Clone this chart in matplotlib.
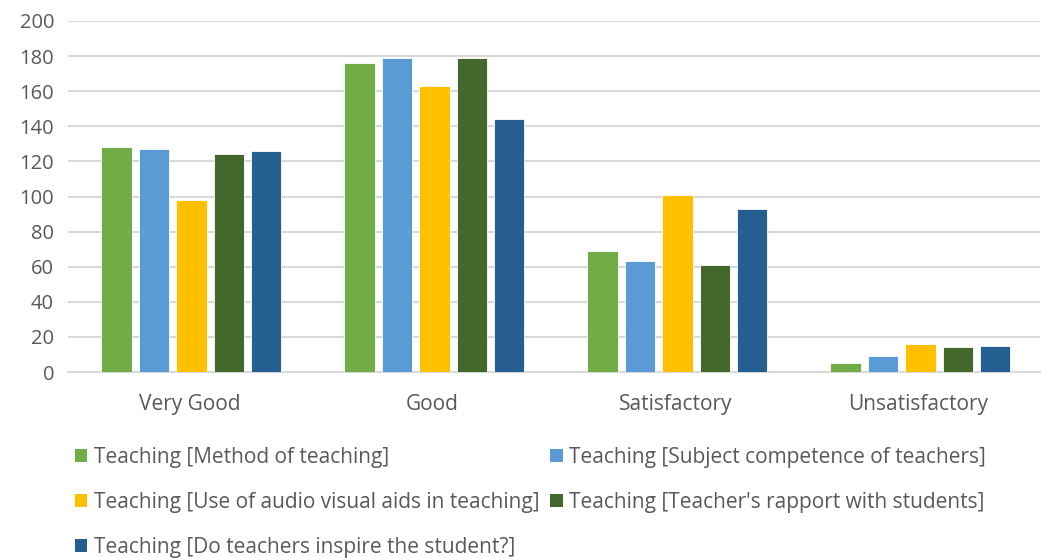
import numpy as np
import matplotlib.pyplot as plt
from matplotlib.patches import Patch

plt.rcParams['font.family'] = ['Open Sans', 'DejaVu Sans']

categories = ["Very Good", "Good", "Satisfactory", "Unsatisfactory"]
series_names = [
    "Teaching [Method of teaching]",
    "Teaching [Subject competence of teachers]",
    "Teaching [Use of audio visual aids in teaching]",
    "Teaching [Teacher's rapport with students]",
    "Teaching [Do teachers inspire the student?]",
]
method = [128, 176, 69, 5]
competence = [127, 179, 63, 9]
audio_visual = [98, 163, 101, 16]
rapport = [124, 179, 61, 14]
inspire = [126, 144, 93, 15]
values = [method, competence, audio_visual, rapport, inspire]
colors = ["#70AD47", "#5B9BD5", "#FFC000", "#43682B", "#255E91"]

fig = plt.figure(figsize=(10.46, 5.58), dpi=100)
ax = fig.add_axes([68 / 1046, 1 - 372 / 558, (1040 - 68) / 1046, (372 - 21) / 558])

x = np.arange(len(categories))
step = 0.154
width = 0.125
for i, (vals, c) in enumerate(zip(values, colors)):
    ax.bar(x + (i - 1.95) * step, vals, width, color=c, edgecolor="white", linewidth=0.6, zorder=3)

ax.set_xlim(-0.5, len(categories) - 0.5)
ax.set_ylim(0, 200)
ax.set_yticks(range(0, 201, 20))
ax.set_xticks(x)
ax.set_xticklabels(categories, fontsize=15)
ax.yaxis.grid(True, color="#D9D9D9", linewidth=1.5, zorder=0)
ax.tick_params(axis="both", length=0, labelsize=14.5, colors="#595959", pad=10)
ax.tick_params(axis="x", labelsize=15, pad=16)
for s in ["top", "right", "left"]:
    ax.spines[s].set_visible(False)
ax.spines["bottom"].set_color("#D9D9D9")
ax.spines["bottom"].set_linewidth(1.5)

# row-wise order for a 2-column legend
order = [0, 2, 4, 1, 3]
handles = [Patch(facecolor=colors[i], edgecolor="none") for i in order]
labels = [series_names[i] for i in order]
fig.legend(handles, labels, ncol=2, loc="upper left",
           bbox_to_anchor=(56 / 1046, 1 - 428 / 558), frameon=False,
           fontsize=15, labelcolor="#595959", handlelength=0.6, handleheight=0.6,
           handletextpad=0.3, labelspacing=1.15, columnspacing=0.55)

fig.savefig("out.png", dpi=100)
